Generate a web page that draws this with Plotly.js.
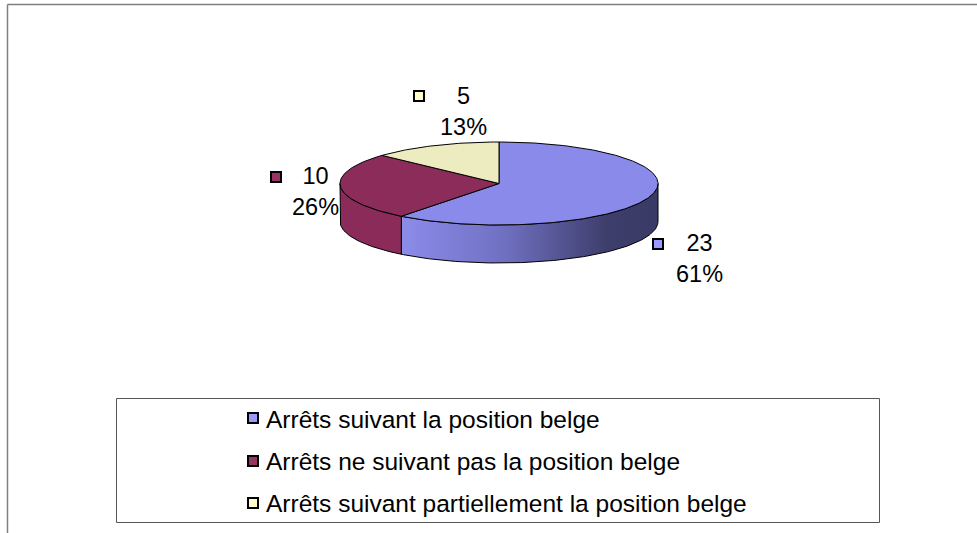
<!DOCTYPE html>
<html>
<head>
<meta charset="utf-8">
<script src="https://cdn.plot.ly/plotly-3.0.1.min.js"></script>
<style>html,body{margin:0;padding:0;background:#fff;}#chart{width:977px;height:533px;}</style>
</head>
<body>
<div id="chart"></div>
<script>
// ---- data ----
const categories = [
  'Arrêts suivant la position belge',
  'Arrêts ne suivant pas la position belge',
  'Arrêts suivant partiellement la position belge'
];
const values = [23, 10, 5];

// ---- styles ----
const topColors = ['#8A8AEA', '#8B2C5B', '#ECECC0'];
const sideColors = ['#8A8AEA', '#8A2B59', '#D8D8A8'];
const swatchColors = ['#9999FF', '#993366', '#FFFFCC'];
const blueSideScale = [[0, '#8C8CEA'], [0.4, '#7070C2'], [0.8, '#3E3E6C'], [1, '#3A3A66']];
const labelPos = [[699, 258], [315, 191], [463, 111]];
const markerPos = [[658, 244], [276, 177], [419, 96]];
const legendRowY = [418, 461, 503];
const legendSwatchX = 253;

// pie geometry (in axis units = pixels)
const CX = 499, CY = 183.5, RX = 159, RY = 41.5, DEPTH = 38;

const total = values.reduce((a, b) => a + b, 0);
const pt = (deg, dy) => {
  const r = deg * Math.PI / 180;
  return [CX + RX * Math.sin(r), CY - RY * Math.cos(r) + (dy || 0)];
};
const arc = (a0, a1, dy) => {
  const out = [];
  const n = Math.max(2, Math.ceil(Math.abs(a1 - a0)));
  for (let i = 0; i <= n; i++) out.push(pt(a0 + (a1 - a0) * i / n, dy));
  return out;
};

const sideTraces = [], topTraces = [];
let start = 0;
values.forEach((v, i) => {
  const end = start + v / total * 360;
  // visible side wall = front half (90..270 deg clockwise from top)
  const s = Math.max(start, 90), e = Math.min(end, 270);
  if (e > s) {
    const pts = arc(s, e, 0).concat(arc(e, s, DEPTH));
    pts.push(pts[0]);
    const xs = pts.map(p => p[0]);
    const tr = {
      type: 'scatter', mode: 'lines', fill: 'toself',
      x: xs, y: pts.map(p => p[1]),
      line: {color: '#000', width: 1},
      fillcolor: sideColors[i],
      showlegend: false, hoverinfo: 'skip'
    };
    if (i === 0) {
      tr.fillgradient = {type: 'horizontal', colorscale: blueSideScale,
        start: Math.min(...xs), stop: Math.max(...xs)};
    }
    sideTraces.push(tr);
  }
  const tp = [[CX, CY]].concat(arc(start, end, 0));
  tp.push([CX, CY]);
  topTraces.push({
    type: 'scatter', mode: 'lines', fill: 'toself',
    x: tp.map(p => p[0]), y: tp.map(p => p[1]),
    line: {color: '#000', width: 1},
    fillcolor: topColors[i],
    showlegend: false, hoverinfo: 'skip'
  });
  start = end;
});

// legend entries (their swatches are drawn as shapes right next to the text)
const legendTraces = categories.map((c, i) => ({
  type: 'scatter', mode: 'markers', x: [null], y: [null],
  name: c, legendgroup: 'g' + i,
  marker: {symbol: 'square', size: 9, color: 'rgba(0,0,0,0)', line: {color: 'rgba(0,0,0,0)', width: 0}},
  hoverinfo: 'skip'
}));

const FONT = '"Liberation Sans", Arial, Helvetica, sans-serif';

const annotations = values.map((v, i) => ({
  x: labelPos[i][0], y: labelPos[i][1], xref: 'x', yref: 'y',
  text: v + '<br>' + Math.round(v / total * 100) + '%',
  showarrow: false, align: 'center',
  font: {family: FONT, size: 23.5, color: '#000'}
}));

const sq = (x, y, color) => ({
  type: 'rect', xref: 'x', yref: 'y',
  x0: x - 5, x1: x + 5, y0: y - 5, y1: y + 5,
  fillcolor: color, line: {color: '#000', width: 2}
});

const shapes = [
  {type: 'line', xref: 'x', yref: 'y', x0: 7.5, x1: 977, y0: 4.5, y1: 4.5, line: {color: '#808080', width: 1.5}},
  {type: 'line', xref: 'x', yref: 'y', x0: 7.5, x1: 7.5, y0: 4.5, y1: 533, line: {color: '#808080', width: 1.5}},
  {type: 'rect', xref: 'x', yref: 'y', x0: 116.5, x1: 879.5, y0: 398.5, y1: 522.5, line: {color: '#555', width: 1}, fillcolor: 'rgba(0,0,0,0)'}
].concat(markerPos.map((p, i) => sq(p[0], p[1], swatchColors[i])))
 .concat(legendRowY.map((y, i) => sq(legendSwatchX, y, swatchColors[i])));

const layout = {
  width: 977, height: 533,
  margin: {l: 0, r: 0, t: 0, b: 0},
  paper_bgcolor: '#fff', plot_bgcolor: '#fff',
  font: {family: FONT, size: 24.5, color: '#000'},
  xaxis: {range: [0, 977], visible: false, fixedrange: true},
  yaxis: {range: [533, 0], visible: false, fixedrange: true},
  showlegend: true,
  legend: {
    x: 226 / 977, y: 1 - 396 / 533, xanchor: 'left', yanchor: 'top',
    bgcolor: 'rgba(0,0,0,0)', borderwidth: 0,
    font: {family: FONT, size: 24.5, color: '#000'},
    traceorder: 'grouped', tracegroupgap: 7, itemwidth: 30
  },
  annotations: annotations,
  shapes: shapes
};

Plotly.newPlot('chart', sideTraces.concat(topTraces, legendTraces), layout, {displayModeBar: false, staticPlot: true});
</script>
</body>
</html>
